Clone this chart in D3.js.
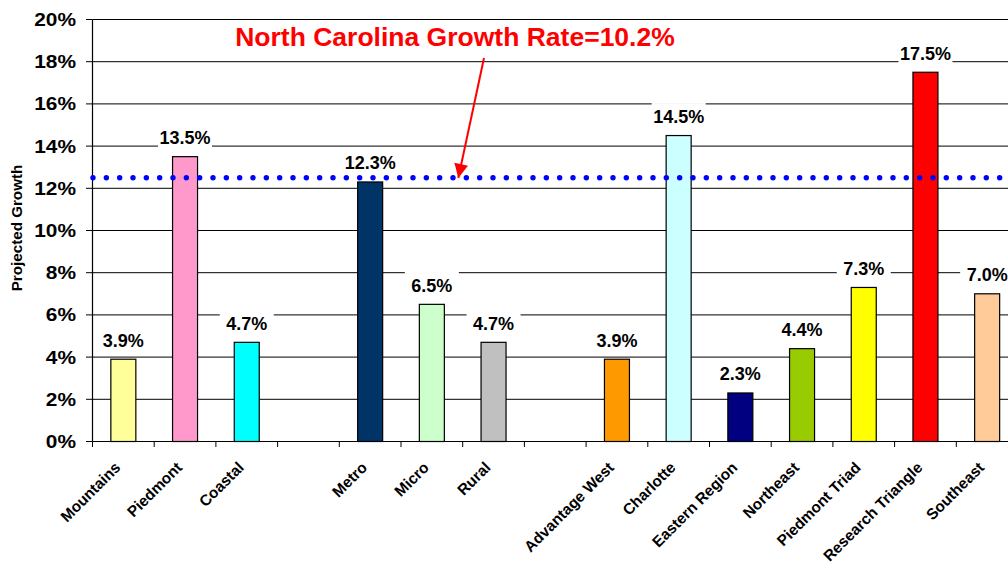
<!DOCTYPE html>
<html>
<head>
<meta charset="utf-8">
<script src="https://cdn.jsdelivr.net/npm/d3@7"></script>
<style>
  html, body { margin: 0; padding: 0; background: #fff; }
  svg { display: block; }
  text { font-family: "Liberation Sans", Arial, sans-serif; font-weight: bold; }
</style>
</head>
<body>
<svg id="chart" width="1008" height="567"></svg>
<script>
// ---- data ----
const categories = ["Mountains", "Piedmont", "Coastal", "", "Metro", "Micro", "Rural", "",
  "Advantage West", "Charlotte", "Eastern Region", "Northeast", "Piedmont Triad", "Research Triangle", "Southeast"];
const values = [3.9, 13.5, 4.7, null, 12.3, 6.5, 4.7, null, 3.9, 14.5, 2.3, 4.4, 7.3, 17.5, 7.0];
const barColors = ["#FFFF99", "#FF99CC", "#00FFFF", null, "#003366", "#CCFFCC", "#C0C0C0", null,
  "#FF9900", "#CCFFFF", "#000080", "#99CC00", "#FFFF00", "#FF0000", "#FFCC99"];
const yTicks = [0, 2, 4, 6, 8, 10, 12, 14, 16, 18, 20];
const referenceLine = 12.5;
const annotationText = "North Carolina Growth Rate=10.2%";
const yAxisTitle = "Projected Growth";

// ---- layout ----
const svg = d3.select("#chart");
const plotLeft = 92.5, plotTop = 19.5, plotBottom = 441.5;
const step = 61.7;
const plotRight = plotLeft + step * categories.length;
const barW = 25;

const x = d3.scaleBand().domain(d3.range(categories.length)).range([plotLeft, plotRight]).padding(0);
const y = d3.scaleLinear().domain([0, 20]).range([plotBottom, plotTop]);

// gridlines
svg.append("g").selectAll("line").data(yTicks.filter(d => d > 0)).join("line")
  .attr("x1", plotLeft).attr("x2", plotRight)
  .attr("y1", d => y(d)).attr("y2", d => y(d))
  .attr("stroke", "#000").attr("stroke-width", 1);

// y axis
const yAxis = svg.append("g");
yAxis.append("line").attr("x1", plotLeft).attr("x2", plotLeft).attr("y1", plotTop).attr("y2", plotBottom)
  .attr("stroke", "#000").attr("stroke-width", 1.2);
yAxis.selectAll("line.tick").data(yTicks).join("line").attr("class", "tick")
  .attr("x1", plotLeft - 6.5).attr("x2", plotLeft).attr("y1", d => y(d)).attr("y2", d => y(d))
  .attr("stroke", "#000");
yAxis.selectAll("text").data(yTicks).join("text")
  .attr("transform", d => `translate(76,${y(d) + 6.5}) scale(1.16,1)`)
  .attr("text-anchor", "end").attr("font-size", 18).attr("fill", "#000")
  .text(d => d + "%");

// y axis title
svg.append("text")
  .attr("transform", `translate(22,228) rotate(-90)`)
  .attr("text-anchor", "middle").attr("font-size", 15.2).attr("fill", "#000")
  .text(yAxisTitle);

// bars
const idx = d3.range(categories.length).filter(i => values[i] !== null);
svg.append("g").selectAll("rect").data(idx).join("rect")
  .attr("x", i => x(i) + (x.bandwidth() - barW) / 2)
  .attr("width", barW)
  .attr("y", i => y(values[i]))
  .attr("height", i => y(0) - y(values[i]))
  .attr("fill", i => barColors[i])
  .attr("stroke", "#000").attr("stroke-width", 1.2);

// x axis
const xAxis = svg.append("g");
xAxis.append("line").attr("x1", plotLeft).attr("x2", plotRight).attr("y1", plotBottom).attr("y2", plotBottom)
  .attr("stroke", "#000").attr("stroke-width", 1.2);
xAxis.selectAll("line.tick").data(d3.range(categories.length + 1)).join("line").attr("class", "tick")
  .attr("x1", i => plotLeft + i * x.step()).attr("x2", i => plotLeft + i * x.step())
  .attr("y1", plotBottom).attr("y2", plotBottom + 5.5).attr("stroke", "#000");
xAxis.selectAll("text").data(d3.range(categories.length)).join("text")
  .attr("transform", i => `translate(${x(i) + x.bandwidth() / 2 - 2},${plotBottom + 27}) rotate(-45)`)
  .attr("text-anchor", "end").attr("font-size", 15.4).attr("fill", "#000")
  .text(i => categories[i]);

// reference dotted line
const dotXs = d3.range(93, 1010, 13.333);
svg.append("g").selectAll("circle").data(dotXs).join("circle")
  .attr("cx", d => d).attr("cy", y(referenceLine)).attr("r", 2.7).attr("fill", "#0000FF");

// data labels with white boxes
const lbl = svg.append("g").selectAll("g").data(idx).join("g")
  .attr("transform", i => `translate(${x(i) + x.bandwidth() / 2},${y(values[i]) - 12.5})`);
lbl.append("rect").attr("x", -27).attr("y", -20).attr("width", 54).attr("height", 24).attr("fill", "#fff");
lbl.append("text").attr("text-anchor", "middle").attr("font-size", 18).attr("fill", "#000")
  .text(i => values[i].toFixed(1) + "%");

// annotation
svg.append("text").attr("x", 455).attr("y", 45.5).attr("text-anchor", "middle")
  .attr("font-size", 26.5).attr("fill", "#FF0000").text(annotationText);

const defs = svg.append("defs");
defs.append("marker").attr("id", "arrow").attr("viewBox", "0 0 10 10")
  .attr("refX", 10).attr("refY", 5).attr("markerWidth", 15).attr("markerHeight", 14)
  .attr("markerUnits", "userSpaceOnUse").attr("orient", "auto")
  .append("path").attr("d", "M0,0 L10,5 L0,10 z").attr("fill", "#FF0000");
svg.append("line").attr("x1", 484).attr("y1", 58).attr("x2", 458.3).attr("y2", 178)
  .attr("stroke", "#FF0000").attr("stroke-width", 2).attr("marker-end", "url(#arrow)");
</script>
</body>
</html>
